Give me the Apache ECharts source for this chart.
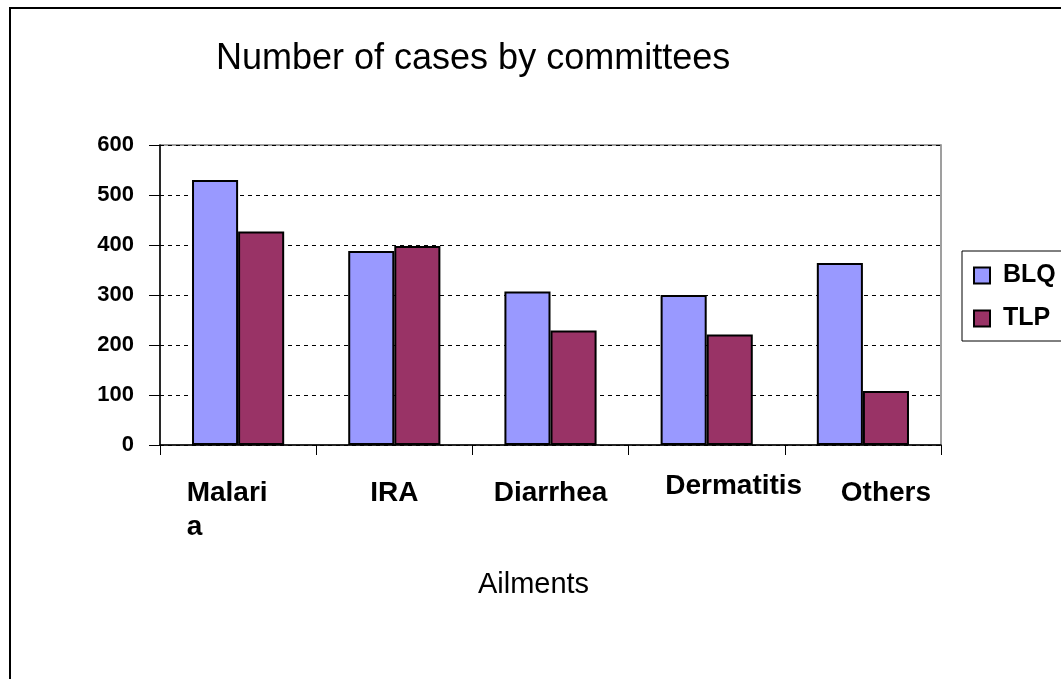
<!DOCTYPE html>
<html>
<head>
<meta charset="utf-8">
<script src="https://cdn.jsdelivr.net/npm/echarts@6/dist/echarts.min.js"></script>
<style>
  html, body { margin: 0; padding: 0; background: #fff; }
  #chart { width: 1061px; height: 679px; }
</style>
</head>
<body>
<div id="chart"></div>
<script>
const categories = ['Malaria', 'IRA', 'Diarrhea', 'Dermatitis', 'Others'];
const blq = [530, 388, 307, 300, 364];
const tlp = [427, 398, 229, 221, 108];
const yTicks = [0, 100, 200, 300, 400, 500, 600];

const chart = echarts.init(document.getElementById('chart'));
const font = 'Arial, "Liberation Sans", sans-serif';
const catFont = { fontFamily: font, fontSize: 28, fontWeight: 'bold', color: '#000', lineHeight: 34 };

// a few of the original labels sit a bit off-centre
const labelNudge = {
  Malaria: { padding: [0, 22, 0, 0] },
  Dermatitis: { lineHeight: 20, padding: [0, 0, 0, 54] },
  Others: { padding: [0, 0, 0, 46] },
};

const bar = (name, data, color) => ({
  name,
  type: 'bar',
  data,
  barGap: '0%',
  barCategoryGap: '41%',
  itemStyle: { color, borderColor: '#000', borderWidth: 2 },
  emphasis: { disabled: true },
});

chart.setOption({
  animation: false,
  title: {
    text: 'Number of cases by committees',
    left: 211,
    top: 36,
    textStyle: { fontFamily: font, fontSize: 36, fontWeight: 'normal', color: '#000' },
  },
  legend: {
    orient: 'vertical',
    left: 962,
    top: 251,
    itemWidth: 16,
    itemHeight: 16,
    itemGap: 18,
    padding: [12, 40, 10, 11],
    borderColor: '#000',
    borderWidth: 1,
    icon: 'rect',
    textStyle: {
      fontFamily: font, fontSize: 25, fontWeight: 'bold', color: '#000',
      padding: [0, 0, 0, 8],
    },
    itemStyle: { borderColor: '#000', borderWidth: 2 },
  },
  grid: {
    left: 160,
    right: 120,
    top: 145,
    bottom: 234,
    show: true,
    borderColor: '#808080',
    borderWidth: 1.5,
  },
  xAxis: {
    type: 'category',
    data: categories.map((c) => (labelNudge[c] ? { value: c, textStyle: labelNudge[c] } : c)),
    name: 'Ailments',
    nameLocation: 'middle',
    nameGap: 125,
    nameTextStyle: { fontFamily: font, fontSize: 29, color: '#000', padding: [0, 34, 0, 0] },
    axisLine: { lineStyle: { color: '#000', width: 1.5 } },
    axisTick: { show: true, length: 10, lineStyle: { color: '#000' } },
    axisLabel: {
      interval: 0,
      hideOverlap: false,
      margin: 31,
      ...catFont,
      verticalAlign: 'top',
      // the source wraps "Malaria" inside a narrow cell, left-aligned
      formatter: (v) => (v === 'Malaria' ? '{w|Malari}\n{w|a}' : v),
      rich: { w: { ...catFont, align: 'left' } },
    },
  },
  yAxis: {
    type: 'value',
    min: yTicks[0],
    max: yTicks[yTicks.length - 1],
    interval: 100,
    axisLine: { show: true, lineStyle: { color: '#000', width: 1.5 } },
    axisTick: { show: true, length: 11, lineStyle: { color: '#000' } },
    splitLine: { lineStyle: { color: '#000', type: [4, 4], width: 1 } },
    axisLabel: {
      margin: 26,
      fontFamily: font,
      fontSize: 22,
      fontWeight: 'bold',
      color: '#000',
    },
  },
  graphic: [{
    type: 'rect',
    shape: { x: 10, y: 8, width: 1200, height: 800 },
    style: { fill: null, stroke: '#000', lineWidth: 2 },
    silent: true,
  }],
  series: [
    bar('BLQ', blq, '#9999FF'),
    bar('TLP', tlp, '#993366'),
  ],
});
</script>
</body>
</html>
